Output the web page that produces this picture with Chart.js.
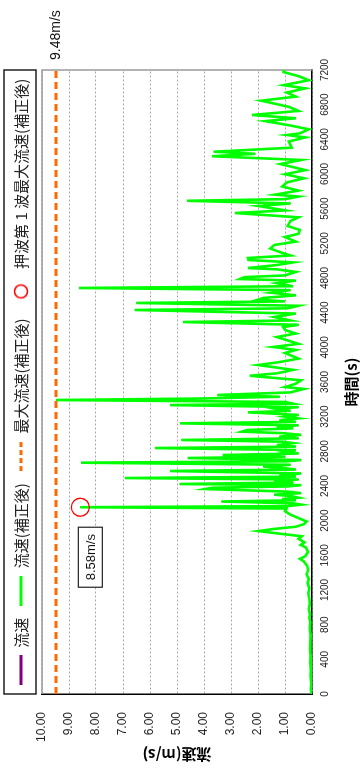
<!DOCTYPE html>
<html><head><meta charset="utf-8">
<script src="https://cdn.jsdelivr.net/npm/chart.js@4"></script>
<style>
html,body{margin:0;padding:0;background:#fff;overflow:hidden;width:360px;height:769px;}
#wrap{position:absolute;left:0;top:0;width:769px;height:360px;transform-origin:0 0;transform:translate(0px,769px) rotate(-90deg);background:#fff;}
canvas{display:block;}
</style></head><body>
<div id="wrap"><canvas id="c" width="769" height="360"></canvas></div>
<script>
// ---- data ----
const timeSec = [
  0,60,120,200,280,360,440,520,600,680,760,830,880,920,980,1040,1100,1160,1220,1280,1330,1380,1430,1480,1530,1560,1590,1640,1690,1720,1750,1790,1820,1850,1880,1905,1930,1960,1990,2030,2070,2110,
  2140,2155,2168,2185,2200,2221,2235,2250,2265,2285,2300,2318,2335,2365,2380,2395,2410,2423,2440,2458,2475,2492,2508,2525,2545,2573,2590,2608,2625,2645,2669,2685,2700,2723,2738,2758,2775,2795,2815,2838,2855,2872,2895,2912,2931,2950,2970,2990,3010,3027,3046,3065,3085,3100,3123,3140,3160,3180,3200,3220,3250,3268,3290,3310,3334,3350,3370,3392,
  3410,3430,3450,3480,3520,3542,3580,3620,3672,3700,3740,3796,3830,3870,3934,3970,4004,4040,4080,4119,4160,4200,4234,4260,4292,4310,4350,4390,4431,4450,4480,4512,4530,4550,4570,4600,4630,4660,4685,4705,4740,4770,4788,4810,4830,4870,4900,4915,4950,4980,5008,5031,5060,5100,5140,5181,5220,5273,5310,5354,5400,5458,5500,5550,5580,5631,5660,5691,5710,
  5740,5762,5809,5856,5903,5950,5997,6045,6115,6162,6205,6233,6257,6304,6375,6422,6450,6469,6516,6563,6610,6643,6681,6728,6775,6846,6893,6940,6988,7025,7082,7129,7176,7200
];
const flowCorrected = [
  0.02,0.04,0.03,0.05,0.04,0.06,0.05,0.07,0.06,0.05,0.08,0.06,0.10,0.07,0.12,0.08,0.10,0.14,0.10,0.16,0.12,0.20,0.14,0.18,0.30,0.45,0.25,0.15,0.22,0.42,0.28,0.50,0.38,1.20,1.98,1.40,0.60,0.30,0.20,0.50,0.80,1.00,
  0.95,8.58,0.90,0.40,0.70,3.35,0.60,1.10,0.50,0.80,1.40,0.40,0.90,3.96,3.70,0.90,0.40,4.90,0.70,1.40,0.50,6.93,0.60,1.20,0.40,5.26,0.60,1.10,1.80,0.80,8.55,0.90,0.40,4.60,1.00,3.30,0.50,1.00,0.60,5.81,0.60,1.30,0.70,1.10,4.83,0.50,1.20,0.40,1.10,2.60,2.40,0.70,1.30,0.50,4.89,0.60,1.20,0.50,1.00,0.50,2.37,0.80,1.30,0.50,5.26,0.70,1.00,9.48,
  4.00,1.20,3.50,0.80,0.30,1.00,0.60,0.40,2.30,1.30,0.70,2.00,1.20,0.50,1.00,0.60,1.44,0.50,0.90,1.30,0.60,1.00,1.07,0.50,4.78,0.80,1.40,0.60,6.56,0.90,0.50,6.50,1.00,2.00,1.80,0.60,1.50,0.80,8.63,0.70,1.30,0.60,2.67,2.50,1.00,0.60,1.30,2.37,1.30,0.70,2.35,2.37,0.80,1.20,1.55,1.40,0.60,1.00,0.50,0.45,0.90,0.80,0.50,2.85,1.00,2.00,0.80,4.63,1.00,
  0.50,1.36,0.50,1.10,0.93,0.30,1.00,0.25,1.17,0.40,3.70,2.10,3.64,0.75,0.86,0.25,0.93,0.45,0.12,0.86,1.73,0.60,2.22,0.50,0.86,1.88,0.60,0.93,0.25,1.05,0.12,0.50,1.05,1.05
];
const maxTimes = [0, 7200];
const maxFlow = [9.48, 9.48];
const peakTime = [2155];
const peakFlow = [8.58];
const seriesNames = ['流速', '流速(補正後)', '最大流速(補正後)', '押波第 1 波最大流速(補正後)'];
const xTickValues = [0,400,800,1200,1600,2000,2400,2800,3200,3600,4000,4400,4800,5200,5600,6000,6400,6800,7200];
const yTickValues = [0,1,2,3,4,5,6,7,8,9,10];
const xTitle = '時間(s)';
const yTitle = '流速(m/s)';
const unit = 'm/s';

const xy = (xs, ys) => xs.map((t, i) => ({x: t, y: ys[i]}));

// legend icons
function icon(kind, color, dash) {
  const c = document.createElement('canvas');
  c.width = 30; c.height = 16;
  const g = c.getContext('2d');
  g.strokeStyle = color;
  if (kind === 'circle') {
    g.lineWidth = 1.5;
    g.beginPath(); g.arc(15, 8, 6.5, 0, Math.PI * 2); g.stroke();
  } else {
    g.lineWidth = 3;
    if (dash) g.setLineDash(dash);
    g.beginPath(); g.moveTo(0, 8); g.lineTo(30, 8); g.stroke();
  }
  return c;
}
const colors = ['#800080', '#00ff00', '#ff6a00', '#ff0000'];
const icons = [icon('line', colors[0]), icon('line', colors[1]), icon('line', colors[2], [5, 3]), icon('circle', colors[3])];

const jpFont = '"Noto Sans CJK JP", "Noto Sans", sans-serif';
const numFont = '"Liberation Sans", Arial, sans-serif';

const deco = {
  id: 'deco',
  beforeDatasetsDraw(chart) {
    const {ctx, chartArea: a} = chart;
    ctx.save();
    ctx.strokeStyle = '#9a9a9a';
    ctx.lineWidth = 1.5;
    ctx.beginPath();
    ctx.moveTo(a.left, a.top); ctx.lineTo(a.right, a.top); ctx.lineTo(a.right, a.bottom);
    ctx.stroke();
    ctx.restore();
  },
  afterDraw(chart) {
    const {ctx, chartArea: a, scales: {x, y}} = chart;
    ctx.save();
    // legend frame
    ctx.strokeStyle = '#222'; ctx.lineWidth = 1.5;
    ctx.strokeRect(a.left, 4, a.right - a.left, 32);
    // max value label
    ctx.fillStyle = '#111';
    ctx.font = '14px ' + numFont;
    ctx.textBaseline = 'middle'; ctx.textAlign = 'left';
    ctx.fillText(maxFlow[0].toFixed(2) + unit, a.right + 10, y.getPixelForValue(maxFlow[0]));
    // peak label box
    const px = x.getPixelForValue(peakTime[0]), py = y.getPixelForValue(peakFlow[0]);
    const bw = 60, bh = 24, bx = px - 20 - bw, by = py - 2;
    ctx.fillStyle = '#fff'; ctx.fillRect(bx, by, bw, bh);
    ctx.strokeStyle = '#222'; ctx.lineWidth = 1.2; ctx.strokeRect(bx, by, bw, bh);
    ctx.fillStyle = '#111'; ctx.textAlign = 'center';
    ctx.font = '13px ' + numFont;
    ctx.fillText(peakFlow[0].toFixed(2) + unit, bx + bw / 2, by + bh / 2 + 1);
    ctx.restore();
  }
};

new Chart(document.getElementById('c'), {
  type: 'line',
  data: {
    datasets: [
      {label: seriesNames[0], data: xy(timeSec, flowCorrected), xAxisID: 'x', yAxisID: 'y', borderColor: colors[0], borderWidth: 1, pointRadius: 0, order: 10},
      {label: seriesNames[1], data: xy(timeSec, flowCorrected), xAxisID: 'x', yAxisID: 'y', borderColor: colors[1], borderWidth: 2.6, pointRadius: 0, order: 3},
      {label: seriesNames[2], data: xy(maxTimes, maxFlow), xAxisID: 'x', yAxisID: 'y', borderColor: colors[2], borderWidth: 3, borderDash: [7, 4], pointRadius: 0, order: 2},
      {label: seriesNames[3], data: xy(peakTime, peakFlow), xAxisID: 'x', yAxisID: 'y', showLine: false, pointRadius: 9, pointBorderWidth: 1.3, pointBorderColor: colors[3], pointBackgroundColor: 'rgba(0,0,0,0)', order: 1}
    ]
  },
  options: {
    responsive: false,
    animation: false,
    devicePixelRatio: 1,
    layout: {padding: {top: 1.5, right: 0, left: 5, bottom: 0}},
    plugins: {
      tooltip: {enabled: false},
      legend: {
        position: 'top',
        labels: {
          usePointStyle: true,
          pointStyleWidth: 30,
          padding: 12,
          color: '#222',
          font: {family: jpFont, size: 15},
          generateLabels: chart => chart.data.datasets.map((ds, i) => ({
            text: ds.label, pointStyle: icons[i], fillStyle: 'rgba(0,0,0,0)', strokeStyle: 'rgba(0,0,0,0)',
            lineWidth: 0, hidden: false, datasetIndex: i, fontColor: '#222'
          }))
        }
      }
    },
    scales: {
      x: {
        type: 'linear', position: 'bottom', min: 0, max: 7200,
        afterBuildTicks: s => { s.ticks = xTickValues.map(v => ({value: v})); },
        afterFit: s => { s.height = 48; },
        grid: {display: false, drawTicks: false},
        border: {display: true, color: '#000', width: 1.5},
        ticks: {autoSkip: false, maxRotation: 0, padding: 7, color: '#222', font: {family: numFont, size: 10}, callback: v => String(v)},
        title: {display: true, text: xTitle, color: '#000', font: {family: jpFont, size: 15, weight: 'bold'}, padding: {top: 0, bottom: 0}}
      },
      y: {
        type: 'linear', position: 'left', min: 0, max: 10,
        afterBuildTicks: s => { s.ticks = yTickValues.map(v => ({value: v})); },
        afterFit: s => { s.width = 70; },
        grid: {drawTicks: false, color: '#a8a8a8', lineWidth: 1},
        border: {display: true, color: '#000', width: 1.5, dash: [2, 2]},
        ticks: {padding: 18, color: '#222', font: {family: numFont, size: 12}, callback: v => Number(v).toFixed(2)},
        title: {display: true, text: yTitle, color: '#000', font: {family: jpFont, size: 15, weight: 'bold'}, padding: {top: 0, bottom: 0}}
      },
      xTop: {
        type: 'linear', position: 'top', min: 0, max: 1, display: true,
        grid: {display: false, drawTicks: false}, border: {display: false}, ticks: {display: false},
        afterFit: s => { s.height = 3.5; }
      },
      yRight: {
        type: 'linear', position: 'right', min: 0, max: 1, display: true,
        grid: {display: false, drawTicks: false}, border: {display: false}, ticks: {display: false},
        afterFit: s => { s.width = 70; }
      }
    }
  },
  plugins: [deco]
});
</script>
</body></html>
